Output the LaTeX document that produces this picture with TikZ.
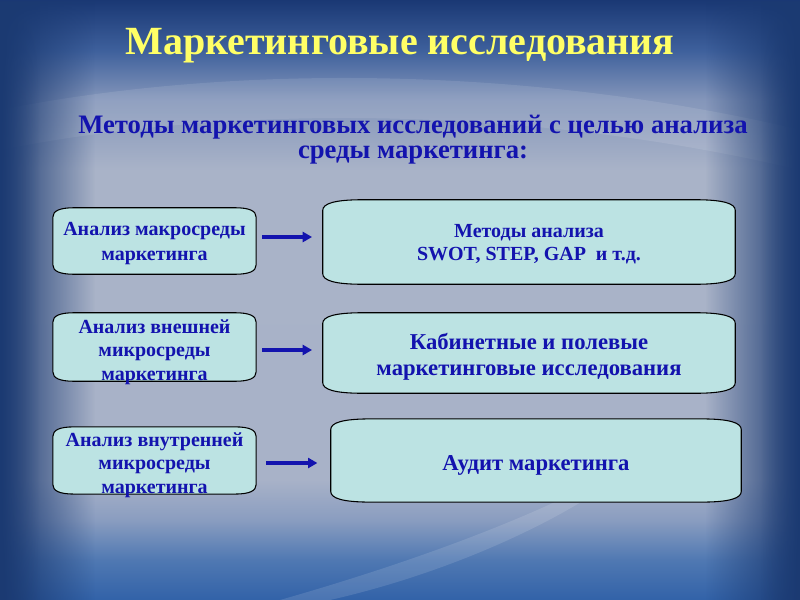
\documentclass[tikz,border=0pt]{standalone}
\usepackage{fontspec}
\setmainfont{Liberation Serif}
\usetikzlibrary{calc,fadings,arrows.meta}
\definecolor{txtblue}{HTML}{1313AE}
\definecolor{boxcol}{HTML}{BCE3E3}
\definecolor{ttlyellow}{HTML}{FFFF66}
\definecolor{edgeblue}{HTML}{1B3A72}
\definecolor{sA}{RGB}{50,98,168}
\definecolor{sB}{RGB}{79,120,178}
\definecolor{sC}{RGB}{138,157,192}
\definecolor{sD}{RGB}{168,178,200}
\definecolor{sE}{RGB}{169,179,200}
\definecolor{sF}{RGB}{132,150,186}
\definecolor{sG}{RGB}{62,96,156}
\definecolor{sH}{RGB}{26,56,116}
\pgfdeclareverticalshading{bgv}{100bp}{%
 color(0bp)=(sA); color(25bp)=(sA); color(28.3bp)=(sB); color(31.7bp)=(sC);
 color(35bp)=(sD); color(60.8bp)=(sE); color(66.7bp)=(sF); color(70.8bp)=(sG);
 color(75bp)=(sH); color(100bp)=(sH)}
\tikzfading[name=fadeR, left color=transparent!0, right color=transparent!100]
\tikzfading[name=fadeL, left color=transparent!100, right color=transparent!0]
\pgfdeclarelayer{bg}
\pgfdeclarelayer{boxes}
\pgfsetlayers{bg,boxes,main}
% #1 node, #2 rx, #3 ry, #4 vertical offset of the frame (up)
\newcommand\boxshape[4]{%
 \path[boxpath] let \p1=(#1.north west), \p2=(#1.south east), \n1={#4} in
 (\x1,\y1+\n1-#3) .. controls (\x1,\y1+\n1-0.35*#3) and (\x1+0.3*#2,\y1+\n1) .. (\x1+#2,\y1+\n1)
 -- (\x2-#2,\y1+\n1) .. controls (\x2-0.3*#2,\y1+\n1) and (\x2,\y1+\n1-0.35*#3) .. (\x2,\y1+\n1-#3)
 -- (\x2,\y2+\n1+#3) .. controls (\x2,\y2+\n1+0.35*#3) and (\x2-0.3*#2,\y2+\n1) .. (\x2-#2,\y2+\n1)
 -- (\x1+#2,\y2+\n1) .. controls (\x1+0.3*#2,\y2+\n1) and (\x1,\y2+\n1+0.35*#3) .. (\x1,\y2+\n1+#3) -- cycle;}
\tikzset{
 boxpath/.style={fill=boxcol, draw=black, line width=0.8pt},
 lbox/.style={align=center, text=txtblue, inner sep=0pt, font=\bfseries\fontsize{15}{17.6}\selectfont},
 rbox/.style={align=center, text=txtblue, inner sep=0pt, font=\bfseries\fontsize{17}{19.5}\selectfont},
 arr/.style={draw=txtblue, line width=2.4pt, -{Triangle[length=7pt,width=7.5pt]}},
}
\begin{document}
\begin{tikzpicture}[x=0.75pt,y=-0.75pt]
\useasboundingbox (0,0) rectangle (800,600);
\begin{pgfonlayer}{bg}
\fill[shading=bgv] (0,0) rectangle (800,600);
% soft waves
\fill[white, opacity=0.10] (0,110) .. controls (250,60) and (550,70) .. (800,130) -- (800,170) .. controls (550,110) and (250,100) .. (0,150) -- cycle;
\fill[white, opacity=0.12] (280,600) .. controls (420,560) and (520,520) .. (580,490) -- (600,490) .. controls (540,530) and (440,575) .. (330,600) -- cycle;
\fill[edgeblue, path fading=fadeR] (0,0) rectangle (95,600);
\fill[edgeblue, path fading=fadeL] (705,0) rectangle (800,600);
\fill[edgeblue, opacity=0.6, path fading=fadeR] (0,0) rectangle (40,600);
\fill[edgeblue, opacity=0.6, path fading=fadeL] (760,0) rectangle (800,600);
\end{pgfonlayer}

\node[text=ttlyellow, font=\bfseries\fontsize{30}{34}\selectfont] (title) at (400,46) {Маркетинговые исследования};
\node[text=txtblue, align=center, font=\bfseries\fontsize{20}{18.75}\selectfont] (sub) at (413,139.5) {Методы маркетинговых исследований с целью анализа\\среды маркетинга:};

\node[lbox, minimum width=152pt, minimum height=49.5pt, font=\bfseries\fontsize{15}{18.75}\selectfont] (L1) at (154.5,244) {Анализ макросреды\\маркетинга};
\node[rbox, minimum width=309pt, minimum height=63pt, font=\bfseries\fontsize{15}{17.25}\selectfont] (R1) at (529,244) {Методы анализа\\SWOT, STEP, GAP\ \ и т.д.};
\node[lbox, minimum width=152pt, minimum height=51pt] (L2) at (154.5,352) {Анализ внешней\\микросреды\\маркетинга};
\node[rbox, minimum width=309pt, minimum height=60pt] (R2) at (529,357) {Кабинетные и полевые\\маркетинговые исследования};
\node[lbox, minimum width=152pt, minimum height=50pt] (L3) at (154.5,465) {Анализ внутренней\\микросреды\\маркетинга};
\node[rbox, minimum width=307.5pt, minimum height=62pt] (R3) at (536,465.5) {Аудит маркетинга};

\begin{pgfonlayer}{boxes}
\boxshape{L1}{16pt}{7pt}{2.25pt}
\boxshape{R1}{30pt}{8pt}{1.5pt}
\boxshape{L2}{16pt}{7pt}{3.75pt}
\boxshape{R2}{30pt}{8pt}{3pt}
\boxshape{L3}{16pt}{7pt}{3.4pt}
\boxshape{R3}{30pt}{8pt}{3.75pt}
\end{pgfonlayer}

\draw[arr, shorten <=4.5pt, shorten >=8pt] ([yshift=5.25pt]L1.east) -- ([yshift=5.25pt]L1.east -| R1.west);
\draw[arr, shorten <=4.5pt, shorten >=8pt] ([yshift=1.5pt]L2.east) -- ([yshift=1.5pt]L2.east -| R2.west);
\draw[arr, shorten <=7.5pt, shorten >=10pt] ([yshift=1.5pt]L3.east) -- ([yshift=1.5pt]L3.east -| R3.west);
\end{tikzpicture}
\end{document}
